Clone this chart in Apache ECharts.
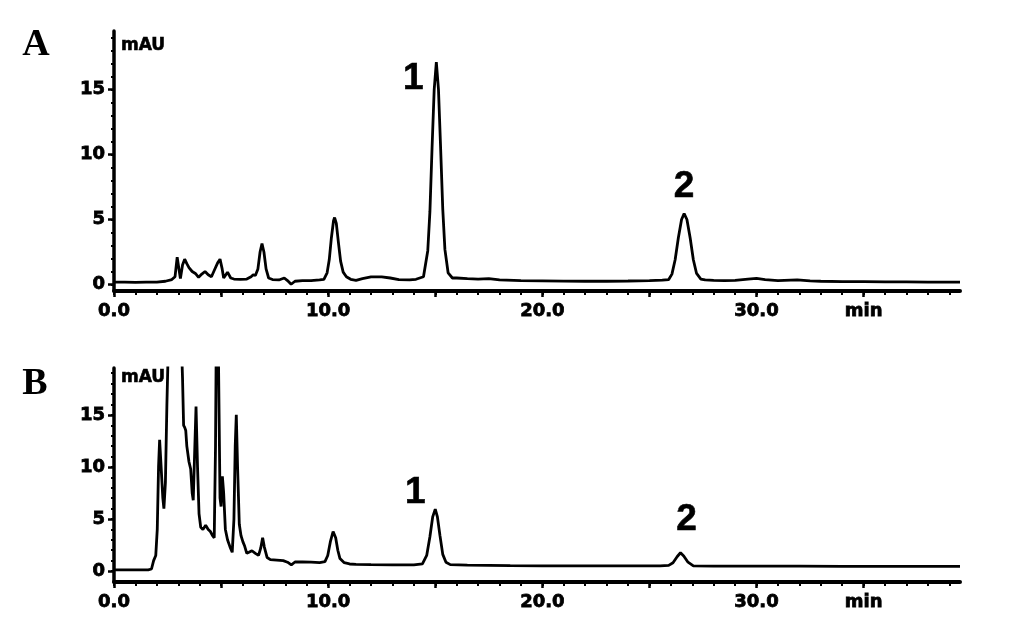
<!DOCTYPE html>
<html>
<head>
<meta charset="utf-8">
<script src="https://cdn.jsdelivr.net/npm/echarts@6/dist/echarts.min.js"></script>
<style>
html,body{margin:0;padding:0;background:#fff;}
#chart{width:1033px;height:623px;}
</style>
</head>
<body>
<div id="chart"></div>
<script>
// ---------- DATA ----------
// Panel A chromatogram (time in min, signal in mAU)
const timeA = [0.0,0.5,1.0,1.5,2.0,2.4,2.7,2.85,2.95,3.02,3.1,3.2,3.3,3.4,3.5,3.65,3.8,3.95,4.1,4.25,4.4,4.55,4.7,4.85,4.95,5.05,5.12,5.3,5.45,5.6,5.9,6.2,6.4,6.5,6.6,6.72,6.82,6.91,7.0,7.1,7.22,7.4,7.7,7.95,8.1,8.27,8.45,8.8,9.2,9.6,9.8,9.95,10.05,10.15,10.25,10.3,10.38,10.48,10.58,10.7,10.85,11.05,11.3,11.6,12.0,12.5,12.9,13.3,13.8,14.1,14.45,14.65,14.75,14.85,14.95,15.05,15.15,15.25,15.35,15.45,15.6,15.8,16.0,16.5,17.0,17.5,18.0,19.0,20.0,21.0,22.0,23.0,24.0,25.0,25.6,25.9,26.05,26.2,26.35,26.5,26.62,26.75,26.9,27.05,27.2,27.4,27.6,28.0,28.5,29.0,29.6,30.0,30.4,31.0,31.9,32.5,33.0,34.0,35.0,36.0,37.0,38.0,39.5];
const valueA = [0.18,0.18,0.17,0.19,0.18,0.25,0.38,0.6,2.1,2.1,0.45,1.5,1.95,1.6,1.3,1.0,0.85,0.55,0.8,1.0,0.75,0.6,1.15,1.7,1.95,1.2,0.5,0.95,0.5,0.42,0.4,0.42,0.6,0.75,0.7,1.2,2.5,3.15,2.5,1.2,0.5,0.38,0.35,0.5,0.3,0.02,0.25,0.3,0.3,0.35,0.4,0.9,1.9,3.6,4.9,5.15,4.7,3.2,1.8,0.95,0.6,0.4,0.32,0.45,0.58,0.58,0.5,0.38,0.35,0.4,0.6,2.6,5.6,10.5,15.0,17.1,15.0,10.5,5.8,2.7,0.9,0.5,0.5,0.45,0.42,0.45,0.35,0.3,0.28,0.26,0.25,0.25,0.27,0.3,0.33,0.38,0.8,1.9,3.6,5.0,5.45,5.0,3.6,1.9,0.85,0.42,0.35,0.32,0.3,0.32,0.42,0.47,0.38,0.3,0.35,0.28,0.25,0.22,0.22,0.2,0.2,0.18,0.18];

// Panel B chromatogram
const timeB = [0.0,1.0,1.6,1.75,1.85,1.95,2.02,2.08,2.13,2.2,2.28,2.33,2.4,2.47,2.54,2.6,3.1,3.2,3.25,3.3,3.35,3.4,3.5,3.58,3.65,3.7,3.76,3.83,3.9,3.97,4.05,4.15,4.28,4.4,4.5,4.6,4.68,4.74,4.8,4.88,4.95,5.0,5.06,5.12,5.2,5.3,5.42,5.52,5.6,5.66,5.71,5.77,5.85,5.93,6.02,6.1,6.2,6.3,6.44,6.6,6.75,6.85,6.94,7.02,7.15,7.3,7.6,7.9,8.1,8.28,8.45,8.8,9.2,9.6,9.85,9.98,10.1,10.23,10.35,10.45,10.55,10.75,11.0,11.3,12.0,13.0,14.0,14.4,14.6,14.75,14.88,15.0,15.1,15.22,15.35,15.5,15.7,16.5,17.5,18.5,20.0,22.0,24.0,25.5,25.9,26.1,26.3,26.45,26.6,26.8,27.05,28.0,30.0,32.0,34.0,36.0,39.5];
const valueB = [0.12,0.12,0.12,0.2,1.0,1.5,4.0,10.0,12.6,10.0,7.0,6.0,8.5,16.0,22.0,30.0,25.0,18.5,14.0,13.8,13.5,12.0,10.5,9.8,7.5,6.8,11.0,15.8,10.0,5.5,4.2,4.0,4.4,4.0,3.8,3.4,3.2,12.0,30.0,20.0,7.0,6.2,9.1,7.5,4.0,3.0,2.3,1.8,5.0,12.0,15.0,10.0,4.5,3.4,2.8,2.4,1.7,1.8,1.95,1.7,1.5,2.2,3.2,2.3,1.3,1.1,1.05,1.0,0.85,0.6,0.87,0.88,0.85,0.82,0.9,1.5,2.8,3.8,3.2,2.0,1.2,0.8,0.68,0.64,0.62,0.6,0.6,0.7,1.5,3.3,5.2,5.95,5.2,3.4,1.6,0.85,0.62,0.58,0.55,0.52,0.5,0.5,0.5,0.5,0.55,0.8,1.4,1.76,1.45,0.85,0.5,0.48,0.47,0.47,0.45,0.45,0.45];

// Peak annotations
const peakNames = ['1','2'];
const peakTimeA = [15.05, 26.62];
const peakHeightA = [17.1, 5.45];
const peakTimeB = [15.0, 26.45];
const peakHeightB = [5.95, 1.76];

// Axis ticks and labels
const yLabelValues = [0,5,10,15];
const yMinorValues = [0,1,2,3,4,5,6,7,8,9,10,11,12,13,14,15,16,17,18,19];
const xMajorValues = [0,5,10,15,20,25,30,35];
const xMinorValues = [0,1,2,3,4,5,6,7,8,9,10,11,12,13,14,15,16,17,18,19,20,21,22,23,24,25,26,27,28,29,30,31,32,33,34,35,36,37,38,39];
const xLabelValues = [0,10,20,30,35];
const xLabelTexts = ['0.0','10.0','20.0','30.0','min'];
const panelLetters = ['A','B'];
const yUnit = 'mAU';

// ---------- CHART ----------
const TICK_FONT = {fontFamily:'DejaVu Sans', fontWeight:'bold', fontSize:18, color:'#000', textBorderColor:'#000', textBorderWidth:0.8};
const grids = [
  {left:114, top:31, width:846, height:260},
  {left:114, top:368, width:846, height:214}
];
const yRanges = [[-0.5,19.5],[-1.05,19.5]];

function xLabelFmt(v){
  const i = xLabelValues.indexOf(v);
  return i >= 0 ? xLabelTexts[i] : '';
}

const xAxes = [], yAxes = [];
[0,1].forEach(g => {
  xAxes.push({
    type:'value', gridIndex:g, min:0, max:39.5, position:'bottom',
    axisLine:{show:true, onZero:false, lineStyle:{color:'#000', width:4}},
    axisTick:{show:true, customValues:xMajorValues, length:6, lineStyle:{color:'#000', width:2.5}},
    axisLabel:{show:true, customValues:xLabelValues, formatter:xLabelFmt, margin:11, ...TICK_FONT},
    splitLine:{show:false}
  });
  xAxes.push({
    type:'value', gridIndex:g, min:0, max:39.5, position:'bottom',
    axisLine:{show:false, onZero:false},
    axisTick:{show:true, customValues:xMinorValues, length:4, lineStyle:{color:'#000', width:2}},
    axisLabel:{show:false},
    splitLine:{show:false}
  });
  yAxes.push({
    type:'value', gridIndex:g, min:yRanges[g][0], max:yRanges[g][1], position:'left',
    axisLine:{show:true, onZero:false, lineStyle:{color:'#000', width:3.5}},
    axisTick:{show:true, customValues:yLabelValues, length:6, lineStyle:{color:'#000', width:2.5}},
    axisLabel:{show:true, customValues:yLabelValues, margin:9, ...TICK_FONT},
    splitLine:{show:false}
  });
  yAxes.push({
    type:'value', gridIndex:g, min:yRanges[g][0], max:yRanges[g][1], position:'left', offset:0,
    axisLine:{show:false, onZero:false},
    axisTick:{show:true, customValues:yMinorValues, length:3, lineStyle:{color:'#000', width:2}},
    axisLabel:{show:false},
    splitLine:{show:false}
  });
});

function pairs(t, v){ return t.map((x,i)=>[x, v[i]]); }

const labelStyle = {fontFamily:'Liberation Sans', fontWeight:'bold', fontSize:37, color:'#000', textBorderColor:'#000', textBorderWidth:0.6};
function peakMarks(times, heights, offsets){
  return {
    symbol:'circle', symbolSize:1, silent:true,
    itemStyle:{color:'rgba(0,0,0,0)'},
    data: peakNames.map((n,i)=>({
      name:n, coord:[times[i], heights[i]],
      label:{show:true, formatter:'{b}', position:'inside', offset:offsets[i], ...labelStyle}
    }))
  };
}

const option = {
  backgroundColor:'#fff',
  animation:false,
  grid: grids,
  xAxis: xAxes,
  yAxis: yAxes,
  series: [
    {
      type:'line', xAxisIndex:0, yAxisIndex:0, data:pairs(timeA, valueA),
      showSymbol:false, clip:true, lineStyle:{color:'#000', width:2.8},
      markPoint: peakMarks(peakTimeA, peakHeightA, [[-23,17],[0,-27]])
    },
    {
      type:'line', xAxisIndex:2, yAxisIndex:2, data:pairs(timeB, valueB),
      showSymbol:false, clip:true, lineStyle:{color:'#000', width:2.8},
      markPoint: peakMarks(peakTimeB, peakHeightB, [[-20,-16],[6,-33]])
    }
  ],
  graphic: [
    {type:'text', x:36, y:45, style:{text:panelLetters[0], fontFamily:'Liberation Serif', fontWeight:'bold', fontSize:38, fill:'#000', align:'center', verticalAlign:'middle'}},
    {type:'text', x:35, y:384, style:{text:panelLetters[1], fontFamily:'Liberation Serif', fontWeight:'bold', fontSize:38, fill:'#000', align:'center', verticalAlign:'middle'}},
    {type:'text', x:121, y:46, style:{text:yUnit, fontFamily:'DejaVu Sans', fontWeight:'bold', fontSize:17, fill:'#000', stroke:'#000', lineWidth:0.6, align:'left', verticalAlign:'middle'}},
    {type:'text', x:121, y:378, style:{text:yUnit, fontFamily:'DejaVu Sans', fontWeight:'bold', fontSize:17, fill:'#000', stroke:'#000', lineWidth:0.6, align:'left', verticalAlign:'middle'}}
  ]
};

const chart = echarts.init(document.getElementById('chart'), null, {renderer:'canvas'});
chart.setOption(option);
</script>
</body>
</html>
